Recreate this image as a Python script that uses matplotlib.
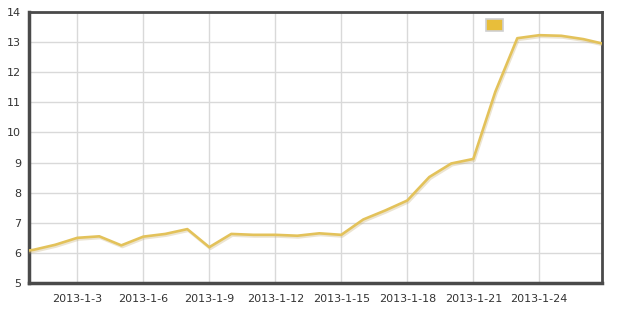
import matplotlib
matplotlib.use("Agg")
import matplotlib.pyplot as plt
import matplotlib.patheffects as pe
from matplotlib.patches import Rectangle

# data: day of January 2013 (0 = 2012-12-31) and values
days = [0, 1, 2, 3, 4, 5, 6, 7, 8, 9, 10, 11, 12, 13, 14,
        15, 16, 17, 18, 19, 20, 21, 22, 23, 24, 25, 26, 27]
values = [6.0, 6.1, 6.27, 6.5, 6.55, 6.25, 6.54, 6.63, 6.79, 6.19, 6.63, 6.6, 6.6, 6.57, 6.65,
          6.6, 7.11, 7.41, 7.74, 8.52, 8.97, 9.12, 11.35, 13.13, 13.23, 13.21, 13.1, 12.93]
tick_days = [3, 6, 9, 12, 15, 18, 21, 24]
tick_labels = ["2013-1-%d" % d for d in tick_days]
y_ticks = [5, 6, 7, 8, 9, 10, 11, 12, 13, 14]

W, H = 622, 313
fig = plt.figure(figsize=(W / 100, H / 100), dpi=100)
ax = fig.add_axes([29.3 / W, 1 - 283 / H, (602 - 29.3) / W, (283 - 12) / H])

line_color = "#E3C25A"
ax.plot(days, values, color=line_color, lw=1.9, solid_joinstyle="round", zorder=3,
        path_effects=[pe.SimpleLineShadow(offset=(0.8, -1.2), shadow_color="#c9b27a", alpha=0.35),
                      pe.Normal()])

x0 = 1 + (29.3 - 33.3) / 22
x1 = 1 + (602 - 33.3) / 22
ax.set_xlim(x0, x1)
ax.set_ylim(5, 14)
ax.set_xticks(tick_days)
ax.set_xticklabels(tick_labels)
ax.set_yticks(y_ticks)
ax.grid(True, color="#d9d9d9", lw=1)
ax.set_axisbelow(True)
ax.tick_params(length=0, labelsize=8, colors="#333333")
ax.tick_params(axis="x", pad=8)
ax.tick_params(axis="y", pad=6)
for s in ax.spines.values():
    s.set_color("#4a4a4a")
    s.set_linewidth(2)
ax.spines["left"].set_linewidth(2.5)
ax.spines["bottom"].set_linewidth(2.5)

# legend swatch
fig.patches.append(Rectangle((486 / W, 1 - 31.3 / H), 17 / W, 12.6 / H,
                             transform=fig.transFigure, facecolor="#E8BE3A",
                             edgecolor="#d0d0d0", lw=1.2, zorder=5))

fig.savefig("out.png", dpi=100)
